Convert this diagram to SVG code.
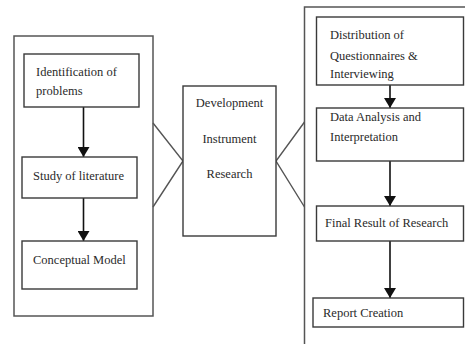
<svg xmlns="http://www.w3.org/2000/svg" width="465" height="344" viewBox="0 0 465 344">
<defs>
<style>
.box{fill:#fff;stroke:#3a3a3a;stroke-width:1.4}
.outer{fill:none;stroke:#555;stroke-width:1.5}
.conn{fill:none;stroke:#555;stroke-width:1.4}
.arr{fill:none;stroke:#111;stroke-width:1.6}
text{font-family:"Liberation Serif","Times New Roman",serif;font-size:12.5px;fill:#2a2a2a}
.mid{text-anchor:middle}
</style>
<marker id="ah" viewBox="0 0 10 12" refX="10" refY="6" markerWidth="10" markerHeight="12" markerUnits="userSpaceOnUse" orient="auto">
<path d="M0,0 L10,6 L0,12 Z" fill="#111"/>
</marker>
</defs>
<rect width="465" height="344" fill="#fff"/>
<g id="left-group"><rect class="outer" x="14" y="36" width="139" height="280"/></g>
<g id="right-group"><path class="outer" d="M466 7 H304.5 V345"/></g>
<g id="connectors">
<path class="conn" d="M153 123 L183 161 L153 207"/>
<path class="conn" d="M304.5 122 L276 161 L304.5 207"/>
<path class="arr" d="M83.5 107 V157" marker-end="url(#ah)"/>
<path class="arr" d="M83.5 198 V241" marker-end="url(#ah)"/>
<path class="arr" d="M390 85 V108" marker-end="url(#ah)"/>
<path class="arr" d="M390 161 V206" marker-end="url(#ah)"/>
<path class="arr" d="M390 241 V298" marker-end="url(#ah)"/>
</g>
<g id="identification"><rect class="box" x="24" y="54" width="115" height="53"/><text x="36" y="76">Identification of</text><text x="36" y="95">problems</text></g>
<g id="study"><rect class="box" x="22" y="157" width="115" height="41"/><text x="33" y="180">Study of literature</text></g>
<g id="conceptual"><rect class="box" x="22" y="241" width="115" height="48"/><text x="33" y="264">Conceptual Model</text></g>
<g id="development"><rect class="box" x="183" y="86" width="93" height="150"/><text class="mid" x="229.5" y="107">Development</text><text class="mid" x="229.5" y="143">Instrument</text><text class="mid" x="229.5" y="178">Research</text></g>
<g id="distribution"><rect class="box" x="316.5" y="17" width="147" height="68"/><text x="330" y="39">Distribution of</text><text x="330" y="60">Questionnaires &amp;</text><text x="330" y="78">Interviewing</text></g>
<g id="analysis"><rect class="box" x="316.5" y="108" width="147" height="53"/><text x="330" y="121">Data Analysis and</text><text x="330" y="141">Interpretation</text></g>
<g id="final"><rect class="box" x="316.5" y="206" width="147" height="35"/><text x="325" y="227">Final Result of Research</text></g>
<g id="report"><rect class="box" x="313" y="298" width="150.5" height="29"/><text x="323" y="317">Report Creation</text></g>
</svg>
